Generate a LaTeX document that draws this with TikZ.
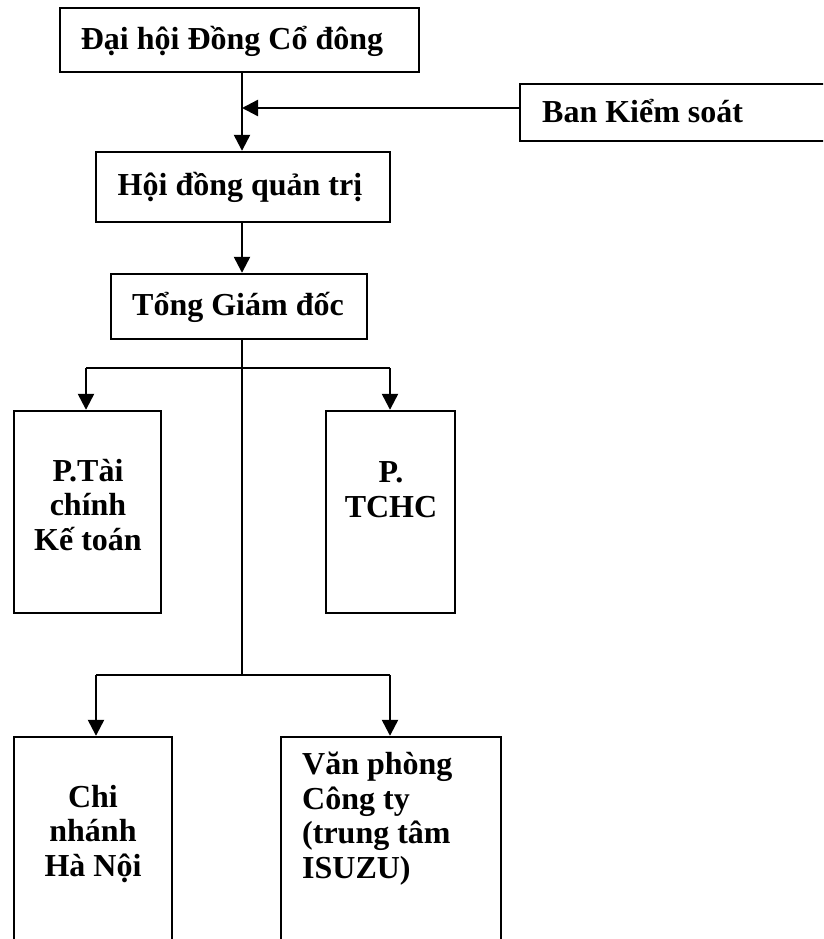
\documentclass[tikz,border=0pt]{standalone}
\usepackage{fontspec}
\setmainfont{Liberation Serif}
\usetikzlibrary{arrows.meta}
\tikzset{
  box/.style={draw, line width=2.4pt, inner sep=0pt, minimum width=#1},
  lbl/.style={inner sep=0pt, font=\fontsize{32}{34.5}\selectfont\bfseries},
  conn/.style={line width=2.4pt},
  arr/.style={line width=2.4pt, -{Triangle[width=16pt,length=16pt]}},
}
\begin{document}
\begin{tikzpicture}[x=1pt,y=-1pt]
\useasboundingbox (0,0) rectangle (823,939);
\clip (0,0) rectangle (823,939);
% boxes
\node[box=359pt, minimum height=64pt] (dh) at (239.5,40) {};
\node[box=330pt, minimum height=57pt] (bks) at (685,112.5) {};
\node[box=294pt, minimum height=70pt] (hdqt) at (243,187) {};
\node[box=256pt, minimum height=65pt] (tgd) at (239,306.5) {};
\node[box=147pt, minimum height=202pt] (tckt) at (87.5,512) {};
\node[box=129pt, minimum height=202pt] (tchc) at (390.5,512) {};
\node[box=158pt, minimum height=230pt] (cn) at (93,852) {};
\node[box=220pt, minimum height=230pt] (vp) at (391,852) {};
% texts
\node[lbl, anchor=base] (tdh) at (232,50) {Đại hội Đồng Cổ đông};
\node[lbl, anchor=base west] (tbks) at (542,123) {Ban Kiểm soát};
\node[lbl, anchor=base] (thdqt) at (240,195) {Hội đồng quản trị};
\node[lbl, anchor=base] (ttgd) at (238,315) {Tổng Giám đốc};
\node[lbl, anchor=base, align=center] (ttckt) at (88,550) {P.Tài\\chính\\Kế toán};
\node[lbl, anchor=base, align=center] (ttchc) at (391,517) {P.\\TCHC};
\node[lbl, anchor=base, align=center] (tcn) at (93,876) {Chi\\nhánh\\Hà Nội};
\node[lbl, anchor=base west, align=left] (tvp) at (302,878) {Văn phòng\\Công ty\\(trung tâm\\ISUZU)};
% coordinates
\coordinate (j1) at (242,108);
\coordinate (b1) at (242,368);
\coordinate (b1l) at (86,368);
\coordinate (b1r) at (390,368);
\coordinate (b2) at (242,675);
\coordinate (b2l) at (96,675);
\coordinate (b2r) at (390,675);
% connectors
\draw[arr] (dh.south -| j1) -- (hdqt.north -| j1);
\draw[arr] (bks.west |- j1) -- (j1);
\draw[arr] (hdqt.south -| j1) -- (tgd.north -| j1);
\draw[line width=1.6pt] (tgd.south -| b1) -- (b2);
\draw[conn] (b1l) -- (b1r);
\draw[arr] (b1l) -- (tckt.north -| b1l);
\draw[arr] (b1r) -- (tchc.north -| b1r);
\draw[conn] (b2l) -- (b2r);
\draw[arr] (b2l) -- (cn.north -| b2l);
\draw[arr] (b2r) -- (vp.north -| b2r);
\end{tikzpicture}
\end{document}
